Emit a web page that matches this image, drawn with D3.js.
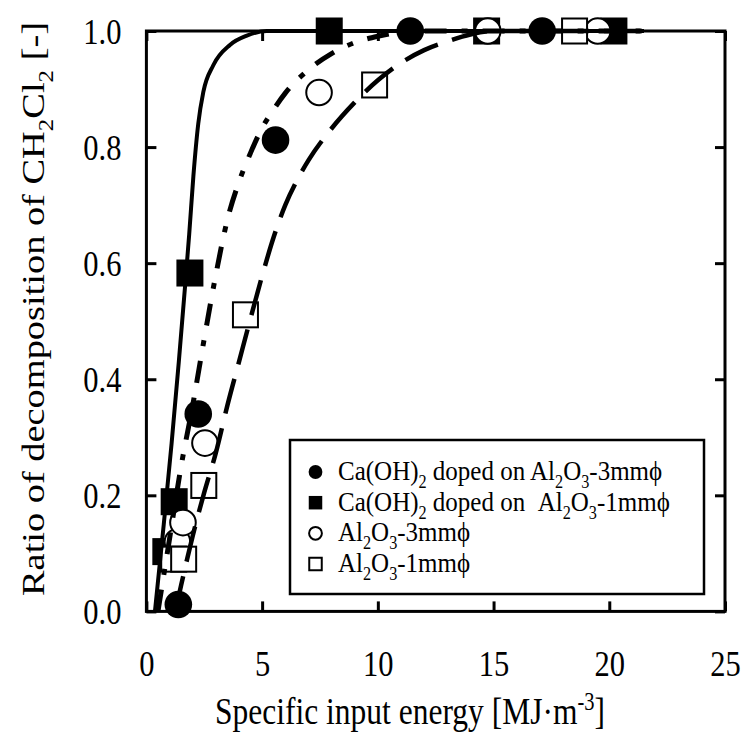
<!DOCTYPE html>
<html>
<head>
<meta charset="utf-8">
<script src="https://cdn.jsdelivr.net/npm/d3@7"></script>
<style>
  html, body { margin: 0; padding: 0; background: #fff; }
  svg { display: block; }
  text { font-family: "Liberation Serif", "Times New Roman", serif; fill: #000; }
</style>
</head>
<body>
<svg id="chart" width="743" height="732"></svg>
<script>
// ---- Axis ticks ----
const xTicks = [0, 5, 10, 15, 20, 25];
const yTicks = [0, 0.2, 0.4, 0.6, 0.8, 1.0];

// ---- Measured points: specific input energy [MJ/m3] vs decomposition ratio ----
// Ca(OH)2 doped on Al2O3-3mm
const dopedAl3mmX = [1.38, 2.24, 5.58, 11.4, 17.1];
const dopedAl3mmY = [0.012, 0.34, 0.812, 1.0, 1.0];
// Ca(OH)2 doped on Al2O3-1mm
const dopedAl1mmX = [0.84, 1.2, 1.88, 7.9, 14.7, 20.2];
const dopedAl1mmY = [0.103, 0.189, 0.583, 1.0, 1.0, 1.0];
// Al2O3-3mm
const al3mmX = [1.34, 1.58, 2.53, 7.46, 14.75, 19.5];
const al3mmY = [0.12, 0.153, 0.29, 0.894, 1.0, 1.0];
// Al2O3-1mm
const al1mmX = [1.18, 1.61, 2.48, 4.28, 9.86, 18.5];
const al1mmY = [0.09, 0.09, 0.217, 0.511, 0.907, 1.0];

// ---- Fitted curves ----
// solid: Ca(OH)2 doped on Al2O3-1mm
const fitDoped1mmX = [0.37, 0.75, 1.09, 1.4, 1.67, 1.85, 2.03, 2.24, 2.46, 2.89, 3.61, 4.34, 5.2, 21.5];
const fitDoped1mmY = [0.0, 0.15, 0.29, 0.43, 0.56, 0.65, 0.75, 0.84, 0.895, 0.941, 0.976, 0.992, 1.0, 1.0];
// dash-dot: Ca(OH)2 doped on Al2O3-3mm
const fitDoped3mmX = [0.5, 1.0, 1.5, 2.0, 2.5, 3.0, 3.5, 4.0, 4.5, 5.0, 5.5, 6.0, 7.0, 8.0, 9.0, 10.0, 11.0, 12.0, 21.5];
const fitDoped3mmY = [0.0, 0.125, 0.25, 0.355, 0.47, 0.58, 0.675, 0.74, 0.79, 0.833, 0.865, 0.893, 0.933, 0.961, 0.98, 0.991, 0.998, 1.0, 1.0];
// dashed: Al2O3
const fitAluminaX = [1.25, 1.5, 2.0, 2.5, 3.0, 3.5, 4.0, 4.5, 5.0, 5.5, 6.0, 6.5, 7.0, 8.0, 9.0, 10.0, 11.0, 12.0, 13.0, 14.0, 15.0, 21.5];
const fitAluminaY = [0.0, 0.045, 0.13, 0.205, 0.273, 0.355, 0.43, 0.505, 0.578, 0.645, 0.7, 0.742, 0.777, 0.832, 0.877, 0.915, 0.945, 0.967, 0.982, 0.994, 1.0, 1.0];

// ---- Legend entries (rich text pieces: [text, kind]) ----
const legendLabels = [
  [["Ca(OH)"], ["2", "sub"], [" doped on Al"], ["2", "sub"], ["O"], ["3", "sub"], ["-3mm\u03D5"]],
  [["Ca(OH)"], ["2", "sub"], [" doped on \u00A0Al"], ["2", "sub"], ["O"], ["3", "sub"], ["-1mm\u03D5"]],
  [["Al"], ["2", "sub"], ["O"], ["3", "sub"], ["-3mm\u03D5"]],
  [["Al"], ["2", "sub"], ["O"], ["3", "sub"], ["-1mm\u03D5"]]
];
const legendSymbols = ["filledCircle", "filledSquare", "openCircle", "openSquare"];

// ---- Layout ----
const plot = { left: 146.4, right: 725, top: 31, bottom: 611.4 };
const STRETCH = 1.18;   // glyphs are drawn slightly tall
const tickLen = 10;

const x = d3.scaleLinear().domain([0, 25]).range([plot.left, plot.right]);
const y = d3.scaleLinear().domain([0, 1]).range([plot.bottom, plot.top]);

const svg = d3.select("#chart");

// rich text with sub/superscripts
function richText(sel, parts, fs) {
  let shift = 0;
  parts.forEach(([t, kind]) => {
    const ts = sel.append("tspan").text(t);
    let target = 0;
    if (kind === "sub") { target = 0.28 * fs; ts.attr("font-size", fs * 0.65); }
    else if (kind === "sup") { target = -0.38 * fs; ts.attr("font-size", fs * 0.65); }
    else { ts.attr("font-size", fs); }
    if (target !== shift) { ts.attr("dy", target - shift); shift = target; }
  });
  return sel;
}

// ---- Axes (inward ticks on all four sides) ----
function styleTicks(g) {
  g.select(".domain").remove();
  g.selectAll(".tick line").attr("stroke", "#000").attr("stroke-width", 3);
  g.attr("font-family", null).attr("font-size", null);
}

const gx = svg.append("g").attr("transform", `translate(0,${plot.bottom})`)
  .call(d3.axisBottom(x).tickValues(xTicks).tickSizeInner(-tickLen).tickSizeOuter(0).tickFormat(d3.format("d")));
styleTicks(gx);
gx.selectAll(".tick text")
  .attr("y", null).attr("dy", null)
  .attr("font-size", 30.5)
  .attr("text-anchor", "middle")
  .attr("transform", `translate(0,65) scale(1,${STRETCH})`);

const gy = svg.append("g").attr("transform", `translate(${plot.left},0)`)
  .call(d3.axisLeft(y).tickValues(yTicks).tickSizeInner(-tickLen).tickSizeOuter(0).tickFormat(d3.format(".1f")));
styleTicks(gy);
gy.selectAll(".tick text")
  .attr("x", null).attr("dy", null)
  .attr("font-size", 30.5)
  .attr("text-anchor", "end")
  .attr("transform", `translate(-25,12) scale(1,${STRETCH})`);

const gt = svg.append("g").attr("transform", `translate(0,${plot.top})`)
  .call(d3.axisTop(x).tickValues(xTicks).tickSizeInner(-tickLen).tickSizeOuter(0).tickFormat(""));
styleTicks(gt);
const gr = svg.append("g").attr("transform", `translate(${plot.right},0)`)
  .call(d3.axisRight(y).tickValues(yTicks).tickSizeInner(-tickLen).tickSizeOuter(0).tickFormat(""));
styleTicks(gr);

// frame
svg.append("rect")
  .attr("x", plot.left).attr("y", plot.top)
  .attr("width", plot.right - plot.left).attr("height", plot.bottom - plot.top)
  .attr("fill", "none").attr("stroke", "#000").attr("stroke-width", 3);

// ---- Axis titles ----
richText(
  svg.append("text")
    .attr("text-anchor", "middle")
    .attr("transform", `translate(410,724) scale(1,${STRETCH})`),
  [["Specific input energy [MJ\u00B7m"], ["-3", "sup"], ["]"]], 31.5);

richText(
  svg.append("text")
    .attr("text-anchor", "middle")
    .attr("transform", `translate(44,309) scale(1,1.2) rotate(-90)`),
  [["Ratio of decomposition of CH"], ["2", "sub"], ["Cl"], ["2", "sub"], [" [-]"]], 32);

// ---- Markers ----
const markers = svg.append("g");
const FC_R = 13.8, OC_R = 12.8, FS_S = 27, OS_S = 25;

function drawSymbol(g, kind, cx, cy, scale) {
  const k = scale || 1;
  if (kind === "filledCircle") {
    g.append("circle").attr("cx", cx).attr("cy", cy).attr("r", FC_R * k).attr("fill", "#000");
  } else if (kind === "filledSquare") {
    const s = FS_S * k;
    g.append("rect").attr("x", cx - s / 2).attr("y", cy - s / 2).attr("width", s).attr("height", s).attr("fill", "#000");
  } else if (kind === "openCircle") {
    g.append("circle").attr("cx", cx).attr("cy", cy).attr("r", OC_R * k)
      .attr("fill", "#fff").attr("stroke", "#000").attr("stroke-width", 2);
  } else {
    const s = OS_S * k;
    g.append("rect").attr("x", cx - s / 2).attr("y", cy - s / 2).attr("width", s).attr("height", s)
      .attr("fill", "#fff").attr("stroke", "#000").attr("stroke-width", 2);
  }
}

[[dopedAl3mmX, dopedAl3mmY, "filledCircle"],
 [dopedAl1mmX, dopedAl1mmY, "filledSquare"],
 [al3mmX, al3mmY, "openCircle"],
 [al1mmX, al1mmY, "openSquare"]].forEach(([xs, ys, kind]) => {
  d3.zip(xs, ys).forEach(([a, b]) => drawSymbol(markers, kind, x(a), y(b)));
});

// ---- Fitted curves ----
const line = d3.line().x(d => x(d[0])).y(d => y(d[1])).curve(d3.curveMonotoneX);
const curves = svg.append("g").attr("fill", "none").attr("stroke", "#000");
curves.append("path").datum(d3.zip(fitDoped1mmX, fitDoped1mmY))
  .attr("d", line).attr("stroke-width", 4);
curves.append("path").datum(d3.zip(fitDoped3mmX, fitDoped3mmY))
  .attr("d", line).attr("stroke-width", 5).attr("stroke-dasharray", "22,15,6,15");
curves.append("path").datum(d3.zip(fitAluminaX, fitAluminaY))
  .attr("d", line).attr("stroke-width", 4.5).attr("stroke-dasharray", "36,15");

// ---- Legend ----
const legend = svg.append("g");
legend.append("rect")
  .attr("x", 290).attr("y", 440).attr("width", 414).attr("height", 154)
  .attr("fill", "#fff").attr("stroke", "#000").attr("stroke-width", 2.5);
const rowBase = [480, 510.7, 541.3, 572];
legendLabels.forEach((parts, i) => {
  drawSymbol(legend, legendSymbols[i], 315.5, rowBase[i] - 8, 0.5);
  richText(
    legend.append("text")
      .style("white-space", "pre")
      .attr("transform", `translate(338,${rowBase[i]}) scale(1,1.12)`),
    parts, 25);
});
</script>
</body>
</html>
